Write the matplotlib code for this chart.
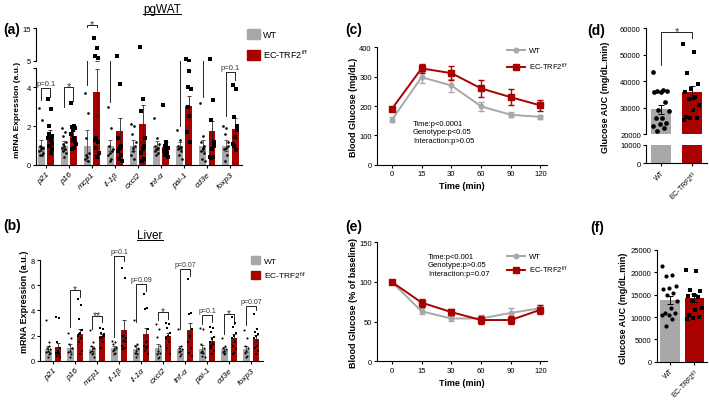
import numpy as np
import matplotlib
matplotlib.use('Agg')
import matplotlib.pyplot as plt
from matplotlib.patches import Patch
from matplotlib.lines import Line2D

plt.rcParams['font.family'] = ['Liberation Sans', 'DejaVu Sans']
plt.rcParams['mathtext.default'] = 'regular'
plt.rcParams['axes.linewidth'] = 0.8
plt.rcParams['xtick.major.width'] = 0.8
plt.rcParams['ytick.major.width'] = 0.8
plt.rcParams['xtick.major.size'] = 2.5
plt.rcParams['ytick.major.size'] = 2.5
plt.rcParams['xtick.major.pad'] = 1.5
plt.rcParams['ytick.major.pad'] = 1.2

GREY = '#a8a8aa'
RED = '#a90000'
EC = 'EC-TRF2$^{f/f}$'

# ---- (a) pgWAT ----
wat_genes = ['p21', 'p16', 'mcp1', 'il-1β', 'cxcl2', 'tnf-α', 'pai-1', 'cd3e', 'foxp3']
wat_wt_mean = [1.0, 1.0, 1.0, 1.0, 1.0, 1.0, 1.0, 1.0, 1.0]
wat_wt_sem = [0.3, 0.25, 0.8, 0.3, 0.3, 0.25, 0.2, 0.3, 0.3]
wat_ec_mean = [1.49, 1.5, 3.75, 1.75, 2.12, 0.95, 3.02, 1.73, 1.87]
wat_ec_sem = [0.3, 0.25, 1.2, 0.65, 0.95, 0.25, 0.55, 0.55, 0.55]
wat_wt_pts = [
    [2.95, 2.3, 1.0, 0.9, 0.8, 0.7, 0.5, 0.5, 0.6, 0.95],
    [1.9, 1.7, 1.5, 1.2, 1.0, 0.9, 0.8, 0.7, 0.6, 0.4, 1.1],
    [3.7, 2.7, 1.4, 0.6, 0.4, 0.3, 0.2, 0.5],
    [3.0, 1.9, 1.0, 0.7, 0.6, 0.5, 0.3, 0.2, 0.8],
    [2.1, 2.0, 1.6, 1.0, 0.7, 0.5, 0.3, 0.9, 1.2],
    [2.4, 1.4, 1.0, 0.9, 0.8, 0.7, 0.6, 0.5, 1.1],
    [1.8, 1.3, 1.0, 0.95, 0.9, 0.8, 0.7, 0.5, 0.3],
    [3.2, 1.5, 1.2, 1.0, 0.9, 0.7, 0.6, 0.3, 0.2, 0.8],
    [2.0, 1.9, 1.6, 1.0, 0.9, 0.8, 0.5, 0.2, 1.2],
]
wat_ec_pts = [
    [3.4, 2.9, 2.0, 1.5, 1.45, 1.4, 1.3, 1.0, 0.8, 0.6, 1.6, 1.1],
    [3.2, 2.0, 1.95, 1.9, 1.8, 1.6, 1.4, 1.3, 1.1, 0.9, 0.8, 1.2],
    [12.0, 9.0, 6.5, 6.0, 1.4, 1.3, 1.2, 0.9, 0.6, 0.4],
    [6.6, 4.2, 1.4, 1.0, 0.8, 0.7, 0.5, 0.3, 0.2, 0.9],
    [9.2, 3.4, 2.8, 1.0, 0.8, 0.6, 0.3, 0.2, 1.4],
    [3.1, 1.2, 1.0, 0.9, 0.8, 0.7, 0.6, 0.5, 0.4, 1.1],
    [5.5, 4.85, 4.0, 3.9, 2.55, 1.7, 1.2, 3.0],
    [5.6, 3.37, 2.3, 1.2, 0.83, 0.4, 0.4, 0.35, 1.0],
    [4.1, 3.94, 2.5, 2.0, 1.45, 1.1, 0.75, 1.0, 1.8],
]
wat_sig_group = [0, 1, 2, 3, 6, 7, 8]
wat_sig_top = [3.95, 4.0, 7.2, 6.3, 6.2, 6.2, 4.77]
wat_sig_wt_end = [3.33, 3.0, 4.1, 3.26, 2.0, 3.5, 2.55]
wat_sig_ec_end = [3.5, 3.3, 6.7, 5.9, 5.75, 5.8, 4.37]
wat_sig_label = ['p=0.1', '*', '*', 'p=0.1', '**', 'p=0.1', 'p=0.1']

# ---- (b) Liver ----
liv_genes = ['p21', 'p16', 'mcp1', 'il-1β', 'il-1α', 'cxcl2', 'tnf-α', 'pai-1', 'cd3e', 'foxp3']
liv_wt_mean = [0.95, 1.0, 0.95, 1.0, 0.95, 1.0, 0.95, 0.95, 0.95, 0.95]
liv_wt_sem = [0.25, 0.3, 0.2, 0.15, 0.3, 0.35, 0.2, 0.3, 0.15, 0.25]
liv_ec_mean = [1.05, 2.15, 1.95, 2.45, 2.1, 1.95, 2.4, 1.6, 1.8, 1.75]
liv_ec_sem = [0.35, 0.4, 0.2, 0.8, 0.5, 0.25, 0.6, 0.25, 0.3, 0.3]
liv_wt_pts = [
    [3.2, 1.5, 1.0, 0.9, 0.8, 0.7, 0.5, 0.3, 0.6, 1.2],
    [2.2, 1.8, 1.3, 1.0, 0.8, 0.7, 0.5, 0.3, 1.0],
    [2.4, 1.5, 1.2, 1.0, 0.8, 0.7, 0.6, 0.5, 0.3, 1.0],
    [1.6, 1.5, 1.3, 1.0, 0.9, 0.8, 0.6, 0.5, 1.1],
    [3.2, 1.3, 1.2, 1.0, 0.8, 0.6, 0.5, 0.3, 0.9],
    [2.9, 2.5, 1.9, 1.2, 0.8, 0.5, 0.3, 0.2, 0.6],
    [2.5, 1.2, 1.0, 0.9, 0.8, 0.7, 0.5, 0.4],
    [2.6, 2.5, 1.3, 1.0, 0.8, 0.7, 0.6, 0.4, 0.3],
    [1.8, 1.2, 1.0, 0.9, 0.8, 0.7, 0.6, 0.5],
    [2.4, 1.8, 1.2, 1.0, 0.8, 0.6, 0.4, 0.3],
]
liv_ec_pts = [
    [3.5, 3.4, 1.5, 1.0, 0.8, 0.6, 0.5, 0.4, 0.3, 0.6],
    [4.9, 4.4, 3.3, 2.4, 2.2, 2.0, 1.8, 1.5, 0.8, 0.5, 2.1],
    [2.6, 2.5, 2.2, 2.0, 1.9, 1.8, 1.5, 1.0, 2.1],
    [7.4, 6.6, 2.0, 1.8, 1.6, 1.2, 1.0, 0.9, 1.5],
    [5.3, 4.2, 4.1, 2.5, 1.5, 1.2, 1.1, 0.8, 0.5, 1.0],
    [3.0, 2.9, 2.6, 2.2, 2.0, 1.8, 1.5, 1.0, 0.5],
    [6.5, 3.8, 3.7, 2.5, 2.0, 1.5, 1.0, 0.6, 0.4],
    [2.7, 2.6, 2.3, 1.9, 1.7, 1.5, 1.3, 1.0, 0.8, 0.5, 1.2],
    [3.5, 3.0, 2.7, 2.2, 2.0, 1.8, 1.5, 1.2, 0.9, 0.6, 0.5],
    [3.7, 2.5, 2.3, 2.1, 2.0, 1.8, 1.2, 1.0, 0.8, 0.5],
]
liv_sig_group = [1, 2, 3, 4, 5, 6, 7, 8, 9]
liv_sig_top = [5.6, 3.57, 8.3, 6.1, 3.84, 7.3, 3.6, 3.7, 4.37]
liv_sig_wt_end = [2.65, 2.5, 1.9, 3.05, 3.2, 2.5, 2.9, 2.1, 2.8]
liv_sig_ec_end = [5.05, 3.07, 7.9, 5.55, 3.3, 6.75, 3.05, 2.9, 4.0]
liv_sig_label = ['*', '**', 'p=0.1', 'p=0.09', '*', 'p=0.07', 'p=0.1', '*', 'p=0.07']

# ---- (c) GTT, (e) ITT ----
time_labels = ['0', '15', '30', '60', '90', '120']
gtt_wt = [153, 298, 270, 199, 170, 163]
gtt_wt_sem = [8, 18, 22, 15, 8, 8]
gtt_ec = [190, 328, 312, 260, 230, 202]
gtt_ec_sem = [5, 15, 25, 28, 28, 18]
itt_wt = [100, 63, 54, 54, 61, 67]
itt_wt_sem = [1, 4, 3, 4, 6, 4]
itt_ec = [100, 74, 62, 52, 52, 65]
itt_ec_sem = [1, 5, 4, 5, 5, 6]

# ---- (d), (f) AUC ----
gtt_auc_mean = [29500, 35800]
gtt_auc_sem = [1700, 2500]
gtt_auc_wt = [43400, 36700, 36500, 36300, 36100, 35800, 32100, 29100, 28800,
              26100, 26000, 24300, 23800, 23000, 22500, 21200]
gtt_auc_ec = [53900, 50900, 43200, 38900, 37000, 36100, 34000, 33400, 31000,
              29000, 26700, 26300, 26000, 25500]
itt_auc_mean = [13900, 14200]
itt_auc_sem = [900, 900]
itt_auc_wt = [21500, 19500, 19200, 17000, 16500, 16200, 15300, 15000, 13500,
              12000, 11000, 10800, 10500, 10400, 9500, 8000]
itt_auc_ec = [20500, 20200, 16000, 15800, 15000, 14800, 14500, 13500, 12000,
              11500, 10500, 10000, 9800, 9500]

W, H = 709, 402
fig = plt.figure(figsize=(W / 100, H / 100), dpi=100)


def rect(l, t, r, b):
    return [l / W, 1 - b / H, (r - l) / W, (b - t) / H]


def spread(n, width):
    return ((np.arange(n) * 0.618) % 1.0 - 0.5) * width


def clean(ax):
    ax.spines['top'].set_visible(False)
    ax.spines['right'].set_visible(False)
    ax.tick_params(labelsize=5.5)


def grouped(ax, wt_m, wt_s, ec_m, ec_s, wt_p, ec_p, off, w, ms):
    x = np.arange(len(wt_m))
    ax.bar(x - off, wt_m, w, color=GREY, zorder=2)
    ax.bar(x + off, ec_m, w, color=RED, zorder=2)
    ax.errorbar(x - off, wt_m, yerr=wt_s, fmt='none', ecolor='#444444',
                elinewidth=0.6, capsize=1.5, capthick=0.6, zorder=3)
    ax.errorbar(x + off, ec_m, yerr=ec_s, fmt='none', ecolor='#222222',
                elinewidth=0.6, capsize=1.5, capthick=0.6, zorder=3)
    for i in range(len(wt_m)):
        ax.plot(i - off + spread(len(wt_p[i]), w * 0.7), wt_p[i], ls='none',
                marker='o', ms=ms, mfc='black', mew=0, zorder=4)
        ax.plot(i + off + spread(len(ec_p[i]), w * 0.7), ec_p[i], ls='none',
                marker='s', ms=ms * 1.2, mfc='black', mew=0, zorder=4)


def bracket(ax, x1, x2, top, y1, y2, label, fs):
    ax.plot([x1, x1, x2, x2], [y1, top, top, y2], color='black', lw=0.6,
            clip_on=False, zorder=5)
    star = label.startswith('*')
    ax.annotate(label, xy=((x1 + x2) / 2, top), xytext=(0, -1.5 if star else 0.8),
                textcoords='offset points', ha='center',
                va='baseline' if star else 'bottom',
                fontsize=fs + 2.5 if star else fs, color='#333333', annotation_clip=False)


def underline(t):
    fig.canvas.draw()
    bb = t.get_window_extent().transformed(fig.transFigure.inverted())
    fig.add_artist(Line2D([bb.x0, bb.x1], [bb.y0 + 0.002, bb.y0 + 0.002],
                          color='black', lw=0.7, transform=fig.transFigure))


# ---------- (a) ----------
off_a, w_a = 0.2, 0.3
ax_a = fig.add_axes(rect(36, 69, 242, 166))
ax_at = fig.add_axes(rect(36, 29, 242, 62))
for ax in (ax_a, ax_at):
    grouped(ax, wat_wt_mean, wat_wt_sem, wat_ec_mean, wat_ec_sem,
            wat_wt_pts, wat_ec_pts, off_a, w_a, 1.9)
    clean(ax)
    ax.set_xlim(-0.42, 8.5)
ax_a.set_ylim(0, 5)
ax_a.set_yticks([0, 2, 4, 5], ['0', '2', '4', ''])
ax_at.set_ylim(5, 15)
ax_at.set_yticks([5, 15])
ax_at.spines['bottom'].set_visible(False)
ax_at.tick_params(axis='x', bottom=False, labelbottom=False)
ax_a.set_xticks(np.arange(len(wat_genes)))
ax_a.set_xticklabels(wat_genes, rotation=45, ha='right', rotation_mode='anchor',
                     fontsize=6, style='italic')
for g, t, y1, y2, lab in zip(wat_sig_group, wat_sig_top, wat_sig_wt_end,
                             wat_sig_ec_end, wat_sig_label):
    bracket(ax_a, g - off_a, g + off_a, t, y1, y2, lab, 5.5)
fig.text(18 / W, 1 - 110 / H, 'mRNA Expression (a.u.)', rotation=90,
         ha='center', va='center', fontsize=6, fontweight='bold')
fig.legend(handles=[Patch(color=GREY, label='WT'), Patch(color=RED, label=EC)],
           loc='upper left', bbox_to_anchor=(247 / W, 1 - 30 / H), frameon=False,
           fontsize=6.5, handlelength=1.4, handleheight=1.4, labelspacing=0.9,
           handletextpad=0.4, borderpad=0, borderaxespad=0)

# ---------- (b) ----------
off_b, w_b = 0.22, 0.3
ax_b = fig.add_axes(rect(40, 261, 263, 361.7))
grouped(ax_b, liv_wt_mean, liv_wt_sem, liv_ec_mean, liv_ec_sem,
        liv_wt_pts, liv_ec_pts, off_b, w_b, 1.5)
clean(ax_b)
ax_b.set_xlim(-0.6, 9.53)
ax_b.set_ylim(0, 8)
ax_b.set_yticks([0, 2, 4, 6, 8])
ax_b.set_xticks(np.arange(len(liv_genes)))
ax_b.set_xticklabels(liv_genes, rotation=45, ha='right', rotation_mode='anchor',
                     fontsize=6, style='italic')
for g, t, y1, y2, lab in zip(liv_sig_group, liv_sig_top, liv_sig_wt_end,
                             liv_sig_ec_end, liv_sig_label):
    bracket(ax_b, g - off_b, g + off_b, t, y1, y2, lab, 5)
fig.text(25 / W, 1 - 302 / H, 'mRNA Expression (a.u.)', rotation=90,
         ha='center', va='center', fontsize=6.5, fontweight='bold')
fig.legend(handles=[Patch(color=GREY, label='WT'), Patch(color=RED, label=EC)],
           loc='upper left', bbox_to_anchor=(251 / W, 1 - 257 / H), frameon=False,
           fontsize=6, handlelength=1.1, handleheight=1.1, labelspacing=0.55,
           handletextpad=0.5, borderpad=0, borderaxespad=0)


# ---------- (c) and (e) ----------
def curves(ax, wt, wt_s, ec, ec_s):
    x = np.arange(len(time_labels))
    ax.errorbar(x, wt, yerr=wt_s, color=GREY, marker='o', ms=3.3, lw=1.4,
                capsize=2.2, elinewidth=1.0, capthick=1.0, zorder=3)
    ax.errorbar(x, ec, yerr=ec_s, color=RED, marker='s', ms=3.8, lw=1.4,
                capsize=2.2, elinewidth=1.0, capthick=1.0, zorder=4)
    clean(ax)
    ax.set_xlim(-0.5, 5.22)
    ax.set_xticks(x)
    ax.set_xticklabels(time_labels)
    ax.set_xlabel('Time (min)', fontsize=6.5, fontweight='bold', labelpad=3)


lines_h = [Line2D([], [], color=GREY, marker='o', ms=3.3, lw=1.4, label='WT'),
           Line2D([], [], color=RED, marker='s', ms=3.8, lw=1.4, label=EC)]

ax_c = fig.add_axes(rect(377, 48.3, 547, 165.7))
curves(ax_c, gtt_wt, gtt_wt_sem, gtt_ec, gtt_ec_sem)
ax_c.set_ylim(0, 400)
ax_c.set_yticks([0, 100, 200, 300, 400])
ax_c.text(0.212, 0.38, 'Time:p<0.0001\nGenotype:p<0.05\nInteraction:p>0.05',
          transform=ax_c.transAxes, ha='left', va='top', fontsize=5.5, linespacing=1.25)
ax_c.legend(handles=lines_h, loc='upper left', bbox_to_anchor=(507 / W, 1 - 48 / H),
            bbox_transform=fig.transFigure, frameon=False, fontsize=5.5,
            handlelength=2.4, handletextpad=0.5, labelspacing=0.8,
            borderpad=0, borderaxespad=0)
fig.text(354 / W, 1 - 107 / H, 'Blood Glucose (mg/dL)', rotation=90,
         ha='center', va='center', fontsize=6.5, fontweight='bold')

ax_e = fig.add_axes(rect(377, 243.3, 547, 362.3))
curves(ax_e, itt_wt, itt_wt_sem, itt_ec, itt_ec_sem)
ax_e.set_ylim(0, 150)
ax_e.set_yticks([0, 50, 100, 150])
ax_e.text(0.30, 0.91, 'Time:p<0.001\nGenotype:p>0.05\nInteraction:p=0.07',
          transform=ax_e.transAxes, ha='left', va='top', fontsize=5.5, linespacing=1.25)
ax_e.legend(handles=lines_h, loc='upper left', bbox_to_anchor=(507 / W, 1 - 254 / H),
            bbox_transform=fig.transFigure, frameon=False, fontsize=5.5,
            handlelength=2.4, handletextpad=0.5, labelspacing=0.45,
            borderpad=0, borderaxespad=0)
fig.text(354 / W, 1 - 303 / H, 'Blood Glucose (% of baseline)', rotation=90,
         ha='center', va='center', fontsize=6.5, fontweight='bold')


# ---------- (d) and (f) ----------
def auc(ax, means, sems, wt_p, ec_p, w, ms):
    ax.bar([0, 1], means, w, color=[GREY, RED], zorder=2)
    ax.errorbar([0, 1], means, yerr=sems, fmt='none', ecolor='black',
                elinewidth=0.7, capsize=2, capthick=0.7, zorder=3)
    ax.plot(0 + spread(len(wt_p), w * 0.85), wt_p, ls='none', marker='o', ms=ms,
            mfc='black', mew=0, zorder=4)
    ax.plot(1 + spread(len(ec_p), w * 0.85), ec_p, ls='none', marker='s', ms=ms,
            mfc='black', mew=0, zorder=4)
    clean(ax)


ax_d = fig.add_axes(rect(646, 29.3, 707, 135.3))
ax_dl = fig.add_axes(rect(646, 146, 707, 164.3))
for ax in (ax_d, ax_dl):
    auc(ax, gtt_auc_mean, gtt_auc_sem, gtt_auc_wt, gtt_auc_ec, 0.65, 3.4)
    ax.set_xlim(-0.5, 1.5)
ax_d.set_ylim(20000, 60000)
ax_d.set_yticks([20000, 30000, 40000, 50000, 60000])
ax_d.spines['bottom'].set_visible(False)
ax_d.tick_params(axis='x', bottom=False, labelbottom=False)
ax_dl.set_ylim(0, 10000)
ax_dl.set_yticks([0, 10000])
ax_dl.set_xticks([0, 1])
ax_dl.set_xticklabels(['WT', EC], rotation=45, ha='right', rotation_mode='anchor',
                      fontsize=5)
bracket(ax_d, 0, 1, 58500, 46100, 56400, '*', 5.5)
fig.text(605 / W, 1 - 97 / H, 'Glucose AUC (mg/dL.min)', rotation=90,
         ha='center', va='center', fontsize=6.5, fontweight='bold')

ax_f = fig.add_axes(rect(656.7, 251, 706.7, 362.7))
auc(ax_f, itt_auc_mean, itt_auc_sem, itt_auc_wt, itt_auc_ec, 0.8, 3.0)
ax_f.set_xlim(-0.54, 1.5)
ax_f.set_ylim(0, 25000)
ax_f.set_yticks([0, 5000, 10000, 15000, 20000, 25000])
ax_f.set_xticks([0, 1])
ax_f.set_xticklabels(['WT', EC], rotation=45, ha='right', rotation_mode='anchor',
                     fontsize=5)
fig.text(623 / W, 1 - 308 / H, 'Glucose AUC (mg/dL.min)', rotation=90,
         ha='center', va='center', fontsize=6.5, fontweight='bold')

# ---------- panel letters and titles ----------
for lab, x, y in [('(a)', 3, 30), ('(b)', 3, 226), ('(c)', 345, 30),
                  ('(e)', 345, 227), ('(d)', 587, 31), ('(f)', 590, 228)]:
    fig.text(x / W, 1 - y / H, lab, ha='left', va='center', fontsize=10,
             fontweight='bold')
t1 = fig.text(162 / W, 1 - 10 / H, 'pgWAT', ha='center', va='center', fontsize=8.5)
t2 = fig.text(150 / W, 1 - 236 / H, 'Liver', ha='center', va='center', fontsize=8.5)
underline(t1)
underline(t2)

fig.savefig('out.png', dpi=100)
